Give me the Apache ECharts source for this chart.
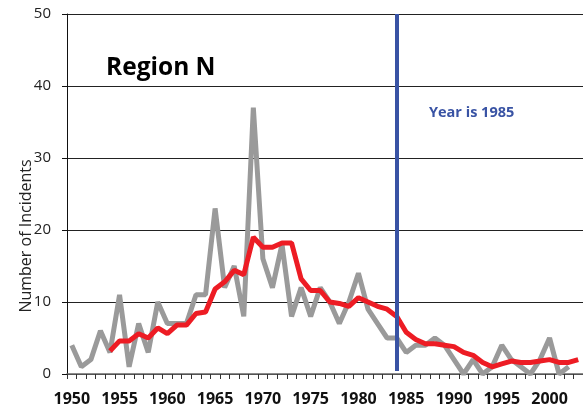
<!DOCTYPE html>
<html>
<head>
<meta charset="utf-8">
<script src="https://cdn.jsdelivr.net/npm/echarts@6/dist/echarts.min.js"></script>
<style>html,body{margin:0;padding:0;background:#fff}#c{width:583px;height:411px}</style>
</head>
<body>
<div id="c"></div>
<script>
var years = [];
for (var y = 1950; y <= 2003; y++) years.push(String(y));

var incidents = [4,1,2,6,3,11,1,7,3,10,
                 7,7,7,11,11,23,12,15,8,37,
                 16,12,18,8,12,8,12,10,7,10,
                 14,9,7,5,5,3,4,4,5,4,
                 2,0,2,0,1,4,2,1,0,2,
                 5,0,1,null];

var movingAvg = [null,null,null,null,3.2,4.6,4.6,5.6,5.0,6.4,
                 5.6,6.8,6.8,8.4,8.6,11.8,12.8,14.4,13.8,19.0,
                 17.6,17.6,18.2,18.2,13.2,11.6,11.6,10.0,9.8,9.4,
                 10.6,10.0,9.4,9.0,8.0,5.8,4.8,4.2,4.2,4.0,
                 3.8,3.0,2.6,1.6,1.0,1.4,1.8,1.6,1.6,1.8,
                 2.0,1.6,1.6,2.0];

var yTicks = [0,10,20,30,40,50];
var markerYear = '1984';
var titleText = 'Region N';
var markerText = 'Year is 1985';
var yName = 'Number of Incidents';

var FONT = 'Open Sans';
var chart = echarts.init(document.getElementById('c'), null, {renderer:'canvas'});
chart.setOption({
  animation: false,
  backgroundColor: '#ffffff',
  grid: {left: 67, top: 14, width: 518, height: 360, containLabel: false},
  xAxis: {
    type: 'category',
    data: years,
    boundaryGap: true,
    axisLine: {show: true, lineStyle: {color: '#666', width: 1.5}},
    axisTick: {show: true, interval: 0, length: 5, lineStyle: {color: '#333'}},
    axisLabel: {interval: 4, margin: 17, fontFamily: FONT, fontWeight: 'bold', fontSize: 16, color: '#111'},
    splitLine: {show: false}
  },
  yAxis: {
    type: 'value',
    min: yTicks[0], max: yTicks[yTicks.length-1], interval: 10,
    axisLine: {show: true, lineStyle: {color: '#111', width: 1}},
    axisTick: {show: true, length: 5, lineStyle: {color: '#111'}},
    axisLabel: {margin: 16, fontFamily: FONT, fontSize: 15, color: '#222'},
    splitLine: {show: true, lineStyle: {color: '#222', width: 1}}
  },
  graphic: [
    {type: 'text', left: 106, top: 56, z: 100,
     style: {text: titleText, fontFamily: FONT, fontWeight: 'bold', fontSize: 24.5, fill: '#000'}},
    {type: 'text', left: 429, top: 105, z: 100,
     style: {text: markerText, fontFamily: FONT, fontWeight: 'bold', fontSize: 14.5, fill: '#3953a4'}},
    {type: 'text', x: 26, y: 236, rotation: Math.PI / 2, z: 100,
     style: {text: yName, fontFamily: FONT, fontSize: 16, fill: '#222', align: 'center', verticalAlign: 'middle'}}
  ],
  series: [
    {type: 'line', data: incidents, showSymbol: false, symbol: 'none', z: 2,
     lineStyle: {color: '#9a9a9a', width: 5}, itemStyle: {color: '#9a9a9a'}},
    {type: 'line', data: movingAvg, showSymbol: false, symbol: 'none', z: 3,
     lineStyle: {color: '#ed1c24', width: 5}, itemStyle: {color: '#ed1c24'}},
    {type: 'line', data: [], z: 5,
     markLine: {silent: true, symbol: 'none', animation: false,
       label: {show: false},
       lineStyle: {color: '#3953a4', width: 4, type: 'solid'},
       data: [[{xAxis: markerYear, yAxis: 50}, {xAxis: markerYear, yAxis: 0.4}]]}}
  ]
});
</script>
</body>
</html>
